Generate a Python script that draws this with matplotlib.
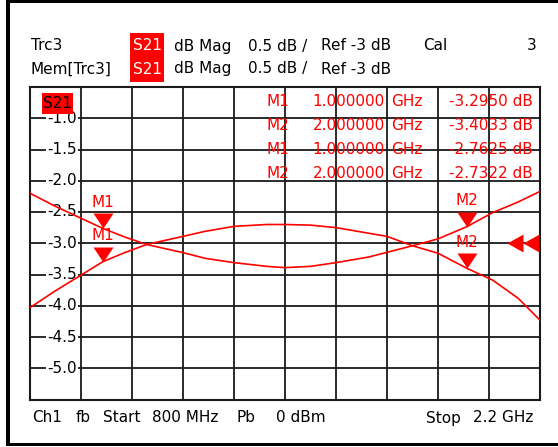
import numpy as np
import matplotlib
matplotlib.use("Agg")
import matplotlib.pyplot as plt
from matplotlib.patches import Rectangle
from matplotlib.transforms import blended_transform_factory

W, H = 558, 447
RED = "#ff0000"
GRID = "#1a1a1a"
FS = 11

# sweep / scale settings
start_ghz, stop_ghz = 0.8, 2.2
ref_db = -3.0
top_db, bottom_db = -0.5, -5.5
y_label_vals = [-1.0, -1.5, -2.0, -2.5, -3.0, -3.5, -4.0, -4.5, -5.0]

# Trc3 (live trace)
trc_freq = [0.80, 0.87, 0.94, 1.00, 1.06, 1.12, 1.22, 1.28, 1.36, 1.45, 1.50, 1.57,
            1.64, 1.73, 1.78, 1.85, 1.92, 2.00, 2.07, 2.14, 2.20]
trc_db = [-4.03, -3.76, -3.51, -3.295, -3.15, -3.02, -2.89, -2.81, -2.73, -2.70, -2.70, -2.71,
          -2.75, -2.84, -2.89, -3.04, -3.16, -3.4033, -3.59, -3.88, -4.23]

# Mem[Trc3] (memory trace)
mem_freq = [0.80, 0.87, 0.94, 1.00, 1.06, 1.12, 1.22, 1.28, 1.36, 1.45, 1.50, 1.57,
            1.64, 1.73, 1.85, 1.92, 2.00, 2.07, 2.14, 2.20]
mem_db = [-2.20, -2.41, -2.60, -2.7625, -2.90, -3.02, -3.15, -3.24, -3.31, -3.37, -3.39, -3.37,
          -3.31, -3.22, -3.04, -2.93, -2.7322, -2.51, -2.34, -2.17]

# markers
marker_names = ["M1", "M2"]
marker_freq = [1.0, 2.0]
trc_marker_db = [-3.2950, -3.4033]
mem_marker_db = [-2.7625, -2.7322]

# marker readout table
table_names = ["M1", "M2", "M1", "M2"]
table_freq = ["1.000000", "2.000000", "1.000000", "2.000000"]
table_db = ["-3.2950 dB", "-3.4033 dB", "-2.7625 dB", "-2.7322 dB"]
table_rows_y = [102, 125.5, 149.5, 173.5]


def px(x, y):
    return x / W, 1 - y / H


fig = plt.figure(figsize=(W / 100, H / 100), dpi=100)
fig.patch.set_facecolor("white")

ax_l, ax_r, ax_t, ax_b = 30, 540, 87, 399.5
ax = fig.add_axes([ax_l / W, 1 - ax_b / H, (ax_r - ax_l) / W, (ax_b - ax_t) / H])
ax.set_xlim(start_ghz, stop_ghz)
ax.set_ylim(bottom_db, top_db)
ax.set_xticks(np.linspace(start_ghz, stop_ghz, 11))
ax.set_yticks(np.linspace(bottom_db, top_db, 11))
ax.tick_params(length=0, labelbottom=False, labelleft=False)
ax.grid(True, color=GRID, linewidth=1.3, zorder=1)
ax.set_axisbelow(True)
for s in ax.spines.values():
    s.set_color(GRID)
    s.set_linewidth(1.5)

# y labels inside the grid, with white background
lab_tr = blended_transform_factory(ax.transAxes, ax.transData)
for v in y_label_vals:
    ax.text(0.092, v, f"{v:.1f}", transform=lab_tr, ha="right", va="center",
            fontsize=FS, color="black", zorder=2,
            bbox=dict(facecolor="white", edgecolor="none", pad=1.0))

ax.plot(trc_freq, trc_db, color=RED, linewidth=1.2, zorder=4)
ax.plot(mem_freq, mem_db, color=RED, linewidth=1.2, zorder=4)

tri_down = [(-10, 15), (10, 15), (0, 0)]
for name, f, d1, d2 in zip(marker_names, marker_freq, trc_marker_db, mem_marker_db):
    for d in (d1, d2):
        ax.plot([f], [d], marker=tri_down, markersize=21.6, color=RED,
                markeredgewidth=0, linestyle="none", zorder=5)
        ax.annotate(name, (f, d), xytext=(0, 19), textcoords="offset points",
                    ha="center", va="center", color=RED, fontsize=FS, zorder=6)

# reference level arrows at the right edge
tri_left = [(0, 0), (16, 9), (16, -9)]
for xa in (0.935, 0.967):
    ax.plot([xa], [ref_db], marker=tri_left, markersize=23, color=RED,
            markeredgewidth=0, linestyle="none", transform=lab_tr, zorder=5,
            clip_on=False)

# S21 tag in the plot corner
ax.add_patch(Rectangle((0.023, 0.9136), 0.062, 0.067, transform=ax.transAxes,
                       facecolor=RED, edgecolor="none", zorder=7))
ax.text(0.054, 0.948, "S21", transform=ax.transAxes, ha="center", va="center",
        fontsize=FS, color="black", zorder=8)

# marker table
for name, fq, db, y in zip(table_names, table_freq, table_db, table_rows_y):
    fig.text(*px(267, y), name, ha="left", va="center", color=RED, fontsize=FS)
    fig.text(*px(385, y), fq, ha="right", va="center", color=RED, fontsize=FS)
    fig.text(*px(391, y), "GHz", ha="left", va="center", color=RED, fontsize=FS)
    fig.text(*px(533, y), db, ha="right", va="center", color=RED, fontsize=FS)

# header
fig.patches.append(Rectangle(px(130, 82), 34 / W, 49 / H, transform=fig.transFigure,
                             facecolor=RED, edgecolor="none", figure=fig))
for y, first in ((46, "Trc3"), (69, "Mem[Trc3]")):
    fig.text(*px(31, y), first, ha="left", va="center", fontsize=FS)
    fig.text(*px(147, y), "S21", ha="center", va="center", fontsize=FS, color="white")
    fig.text(*px(174, y), "dB Mag", ha="left", va="center", fontsize=FS)
    fig.text(*px(248, y), "0.5 dB /", ha="left", va="center", fontsize=FS)
    fig.text(*px(321, y), "Ref -3 dB", ha="left", va="center", fontsize=FS)
fig.text(*px(423, 46), "Cal", ha="left", va="center", fontsize=FS)
fig.text(*px(537, 46), "3", ha="right", va="center", fontsize=FS)

# footer
foot = [("Ch1", 32), ("fb", 76), ("Start", 103), ("800 MHz", 152), ("Pb", 237),
        ("0 dBm", 276), ("Stop", 426), ("2.2 GHz", 473)]
for txt, x in foot:
    fig.text(*px(x, 418), txt, ha="left", va="center", fontsize=FS)

# outer frame (left, top, bottom bars)
for x0, y0, w, h in ((6, 0, 4, 446), (6, 0, 552, 3), (6, 443, 552, 3)):
    fig.patches.append(Rectangle(px(x0, y0 + h), w / W, h / H, transform=fig.transFigure,
                                 facecolor="black", edgecolor="none", figure=fig))

fig.savefig("out.png", dpi=100)
plt.close(fig)
